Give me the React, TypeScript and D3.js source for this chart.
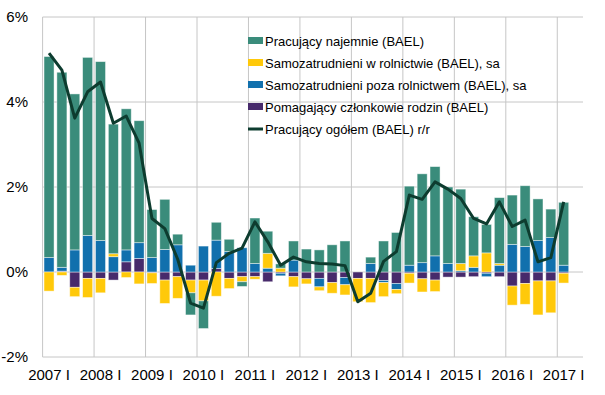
import * as d3 from "d3";

const years = [2007, 2008, 2009, 2010, 2011, 2012, 2013, 2014, 2015, 2016, 2017];
const romans = ["I", "II", "III", "IV"];
const quarters = years.flatMap((y) => romans.map((r) => `${y} ${r}`)).slice(0, 41);
const tickLabels = years.map((y) => `${y} I`);
const slots = [...quarters, ""]; // empty category at the right end

const najemnie = [
  4.73, 4.59, 3.67, 4.19, 4.21, 3.05, 3.32, 2.87, 1.13, 1.18, 0.25, -0.52,
  -0.65, 0.42, 0.29, -0.11, 1.07, 0.52, 0.1, 0.45, 0.54, 0.52, 0.64, 0.73,
  0, 0.15, 0.73, 0.93, 1.86, 2.09, 2.1, 1.8, 1.75, 0.92, 0.67, 1.55,
  1.16, 1.43, 0.98, 0.67, 1.48,
];
const rolnictwo = [
  -0.45, -0.08, -0.22, -0.45, -0.34, 0.07, -0.13, -0.28, -0.25, -0.55, -0.51, -0.3,
  -0.49, -0.57, -0.24, -0.12, -0.06, 0.35, 0.09, -0.24, -0.12, -0.09, -0.25, -0.24,
  -0.55, -0.57, -0.33, -0.1, -0.23, -0.31, -0.27, 0, 0.17, 0.27, 0.45, 0.04,
  -0.45, -0.49, -0.8, -0.75, -0.23,
];
const pozaRolnictwem = [
  0.34, 0.09, 0.52, 0.86, 0.74, 0.36, 0.28, 0.37, 0.34, 0.53, 0.64, 0.16,
  0.61, 0.67, 0.48, 0.57, 0.2, 0.09, -0.06, 0.28, 0, -0.2, 0, -0.17,
  0, 0.2, -0.05, -0.14, 0.16, 0.22, 0.38, 0.2, 0.03, 0.11, -0.08, 0.16,
  0.65, 0.6, 0.74, 0.81, 0.16,
];
const pomagajacy = [
  0, 0.02, -0.36, -0.15, -0.15, -0.19, 0.24, 0.32, -0.02, -0.19, -0.11, -0.19,
  -0.19, 0.08, -0.15, -0.11, -0.11, -0.23, -0.03, -0.11, -0.16, -0.15, -0.25, -0.13,
  -0.15, -0.15, -0.2, -0.27, -0.03, -0.16, -0.19, -0.12, -0.12, -0.11, -0.03, -0.11,
  -0.33, -0.27, -0.21, -0.21, -0.03,
];
const ogolem = [
  5.15, 4.75, 3.62, 4.24, 4.47, 3.5, 3.67, 3.03, 1.26, 1.02, 0.3, -0.73,
  -0.85, 0.22, 0.44, 0.56, 1.18, 0.71, 0.16, 0.35, 0.24, 0.2, 0.19, 0.15,
  -0.7, -0.5, 0.25, 0.48, 1.81, 1.71, 2.12, 1.95, 1.73, 1.26, 1.13, 1.65,
  1.07, 1.22, 0.24, 0.34, 1.65,
];
const yTicks = [-2, 0, 2, 4, 6];

const series = [
  { key: "pom", label: "Pomagający członkowie rodzin (BAEL)", color: "#472a6b", values: pomagajacy },
  { key: "poza", label: "Samozatrudnieni poza rolnictwem (BAEL), sa", color: "#1170ad", values: pozaRolnictwem },
  { key: "rol", label: "Samozatrudnieni w rolnictwie (BAEL), sa", color: "#ffc90a", values: rolnictwo },
  { key: "naj", label: "Pracujący najemnie (BAEL)", color: "#3a8c7b", values: najemnie },
];
const legendOrder = ["naj", "rol", "poza", "pom"];
const lineColor = "#0d3c2f";
const lineLabel = "Pracujący ogółem (BAEL) r/r";

const W = 605;
const H = 395;
const m = { left: 42.6, right: 22, top: 17, bottom: 38 };
const font = "'Liberation Sans', Arial, sans-serif";

export default function App() {
  const x = d3.scaleBand().domain(slots.map((s, i) => String(i))).range([m.left, W - m.right]).paddingInner(0.22).paddingOuter(0.11);
  const step = x.step();
  const y = d3.scaleLinear().domain([-2, 6]).range([H - m.bottom, m.top]);

  const rows = quarters.map((q, i) => {
    const r: Record<string, number | string> = { q };
    series.forEach((s) => (r[s.key] = s.values[i]));
    return r;
  });
  const stacked = d3
    .stack<any>()
    .keys(series.map((s) => s.key))
    .offset(d3.stackOffsetDiverging)(rows);

  const line = d3
    .line<number>()
    .x((_, i) => (x(String(i)) as number) + x.bandwidth() / 2)
    .y((d) => y(d));

  const yearX = (i: number) => m.left + i * 4 * step;

  return (
    <svg width={W} height={H} style={{ position: "absolute", left: 0, top: 0, background: "#fff" }} fontFamily={font}>
      {/* grid */}
      {yTicks.map((t) => (
        <line key={t} x1={m.left} x2={W - m.right} y1={y(t)} y2={y(t)} stroke="#c6c6c6" strokeWidth={1} />
      ))}
      {years.map((yr, i) => (
        <line key={yr} x1={yearX(i)} x2={yearX(i)} y1={m.top} y2={H - m.bottom} stroke="#c6c6c6" strokeWidth={1} />
      ))}

      {/* bars */}
      {stacked.map((layer, li) => (
        <g key={layer.key} fill={series[li].color}>
          {layer.map((d, i) =>
            Math.abs(d[1] - d[0]) < 1e-9 ? null : (
              <rect
                key={i}
                x={x(String(i))}
                width={x.bandwidth()}
                y={y(Math.max(d[0], d[1]))}
                height={Math.abs(y(d[0]) - y(d[1]))}
                stroke="rgba(255,255,255,0.55)"
                strokeWidth={0.8}
              />
            )
          )}
        </g>
      ))}

      {/* total line */}
      <path d={line(ogolem) || ""} fill="none" stroke={lineColor} strokeWidth={3} strokeLinejoin="round" />

      {/* y labels */}
      {yTicks.map((t) => (
        <text key={t} x={28} y={y(t) + 5} textAnchor="end" fontSize={15} fill="#000">
          {t}%
        </text>
      ))}
      {/* x labels */}
      {tickLabels.map((l, i) => (
        <text key={l} x={(x(String(i * 4)) as number) + x.bandwidth() / 2} y={380} textAnchor="middle" fontSize={15} fill="#000">
          {l}
        </text>
      ))}

      {/* legend */}
      {legendOrder.map((k, i) => {
        const s = series.find((s) => s.key === k)!;
        return (
          <g key={k} transform={`translate(248, ${41 + i * 22})`}>
            <rect x={0} y={-4} width={15} height={7} fill={s.color} />
            <text x={17} y={4.5} fontSize={13} fill="#000">
              {s.label}
            </text>
          </g>
        );
      })}
      <g transform={`translate(248, ${41 + 4 * 22})`}>
        <line x1={0} x2={15} y1={0} y2={0} stroke={lineColor} strokeWidth={3} />
        <text x={17} y={4.5} fontSize={13} fill="#000">
          {lineLabel}
        </text>
      </g>
    </svg>
  );
}
